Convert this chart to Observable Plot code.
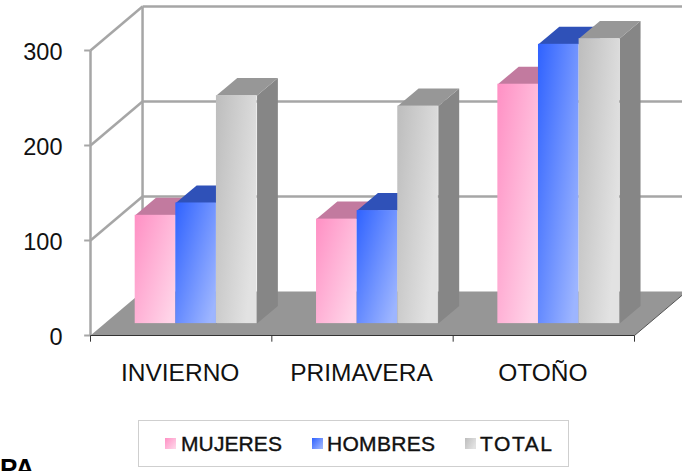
<!DOCTYPE html>
<html><head><meta charset="utf-8">
<style>html,body{margin:0;padding:0;background:#fff}svg{display:block}</style>
<script src="https://cdn.jsdelivr.net/npm/d3@7"></script>
<script src="https://cdn.jsdelivr.net/npm/@observablehq/plot@0.6"></script>
</head><body><script>
const seasons = ["INVIERNO", "PRIMAVERA", "OTOÑO"];
const seriesNames = ["MUJERES", "HOMBRES", "TOTAL"];
const mujeres = [114, 110, 252];
const hombres = [127, 119, 294];
const total = [240, 229, 300];
const yTicks = [0, 100, 200, 300];
const values = [mujeres, hombres, total];

// oblique 3D projection, expressed in scale units
const depthX = 0.287, depthY = 46.3;
const project = (x, y, d) => ({x: x + depthX * d, y: y + depthY * d});
const barW = 0.224, dFront = 0.27, dBack = 0.67;
const gradIds = ["gPink", "gBlue", "gGray"];
const tops = ["#c27a9f", "#2f51b8", "#979797"];
const sides = ["#a8668a", "#2744a0", "#868686"];
const FLOOR = "#969696", GRID = "#a6a6a6";

const polyMark = (pts, fill) => Plot.line(pts, {x: "x", y: "y", fill, stroke: "none", curve: "linear-closed"});

const barsOrdered = [];
seasons.forEach((s, i) => {
  values.forEach((v, j) => {
    const x0 = i + 0.505 - 1.5 * barW + j * barW, x1 = x0 + barW, h = v[i];
    const A = project(x0, h, dFront), B = project(x1, h, dFront);
    const C = project(x1, h, dBack), D = project(x0, h, dBack);
    const E = project(x1, 0, dFront), F = project(x1, 0, dBack);
    barsOrdered.push(
      polyMark([E, F, C, B], sides[j]),
      polyMark([A, B, C, D], tops[j]),
      Plot.rect([{}], {x1: () => A.x, x2: () => B.x, y1: () => E.y, y2: () => A.y, fill: `url(#${gradIds[j]})`})
    );
  });
});

const wallTop = project(0, 300, 1).y;
const backX = project(0, 0, 1).x, rightX = project(3, 0, 1).x;
const floor = [project(0,0,0), project(3,0,0), project(3,0,1), project(0,0,1)];

const defs = () => {
  const ns = "http://www.w3.org/2000/svg";
  const d = document.createElementNS(ns, "defs");
  d.innerHTML = `
  <linearGradient id="gPink" x1="0" y1="0" x2="1" y2="0.8"><stop offset="0" stop-color="#ff90c4"/><stop offset="1" stop-color="#ffd4e8"/></linearGradient>
  <linearGradient id="gBlue" x1="0" y1="0" x2="1" y2="0.8"><stop offset="0" stop-color="#2f62ff"/><stop offset="1" stop-color="#9db5ff"/></linearGradient>
  <linearGradient id="gGray" x1="0" y1="0" x2="1" y2="0.5"><stop offset="0" stop-color="#bdbdbd"/><stop offset="1" stop-color="#e2e2e2"/></linearGradient>`;
  return d;
};

const plot = Plot.plot({
  width: 682, height: 471,
  marginLeft: 90, marginRight: 48, marginTop: 50, marginBottom: 136,
  style: {background: "#fff", fontFamily: "'Liberation Sans', Arial, sans-serif", overflow: "hidden"},
  x: {type: "linear", domain: [0, 3], axis: null},
  y: {type: "linear", domain: [0, 300], axis: null},
  marks: [
    defs,
    // back wall and side wall
    Plot.link([{}], {x1: () => backX, x2: () => backX, y1: () => 0, y2: () => wallTop, stroke: GRID, strokeWidth: 2.5}),
    Plot.link(yTicks.slice(1), {x1: () => backX, x2: () => rightX, y1: d => project(0,d,1).y, y2: d => project(0,d,1).y, stroke: GRID, strokeWidth: 2.5}),
    Plot.link(yTicks.slice(1), {x1: () => 0, x2: () => depthX, y1: d => d, y2: d => d + depthY, stroke: GRID, strokeWidth: 2.5}),
    Plot.link([{}], {x1: () => 0, x2: () => 0, y1: () => 0, y2: () => 300, stroke: GRID, strokeWidth: 2.5}),
    Plot.link(yTicks, {x1: () => -0.035, x2: () => 0, y1: d => d, y2: d => d, stroke: GRID, strokeWidth: 2}),
    polyMark(floor, FLOOR),
    Plot.link([{}], {x1: () => 3, x2: () => 3 + depthX, y1: () => 0, y2: () => depthY, stroke: "#555", strokeWidth: 1}),
    ...barsOrdered,
    // x axis
    Plot.link([{}], {x1: () => 0, x2: () => 3, y1: () => 0, y2: () => 0, stroke: "#333", strokeWidth: 1.2}),
    Plot.link([0, 1, 2, 3], {x1: d => d, x2: d => d, y1: () => 0, y2: () => -6.5, stroke: "#333", strokeWidth: 1}),
    Plot.text(yTicks, {x: () => 0, y: d => d, dx: -28, dy: 1.5, text: d => String(d), textAnchor: "end", fontSize: 23.5, fill: "#111", lineAnchor: "middle"}),
    Plot.text(seasons, {x: (d, i) => i + 0.5, y: () => 0, dx: -1, dy: 38, text: d => d, fontSize: 24.5, fill: "#111", lineAnchor: "middle"}),
  ]
});
document.body.appendChild(plot);

// legend and cut-off corner text
const lx = {swatch: [165, 312, 465], text: [181, 327, 480]};
const ns = "http://www.w3.org/2000/svg";
const g = document.createElementNS(ns, "g");
g.setAttribute("text-anchor", "start");
const html = [];
html.push(`<rect x="138.5" y="420.5" width="430" height="46" fill="#fff" stroke="#cfcfcf"/>`);
seriesNames.forEach((n, i) => {
  html.push(`<rect x="${lx.swatch[i]}" y="438" width="11" height="11" fill="url(#${gradIds[i]})"/>`);
  html.push(`<text x="${lx.text[i]}" y="451" font-size="21" fill="#111" stroke="#111" stroke-width="0.4" textLength="${[101,108,72][i]}">${n}</text>`);
});
html.push(`<text x="0" y="477" font-size="26" font-weight="bold" fill="#000">PA</text>`);
g.innerHTML = html.join("");
plot.appendChild(g);
</script></body></html>
